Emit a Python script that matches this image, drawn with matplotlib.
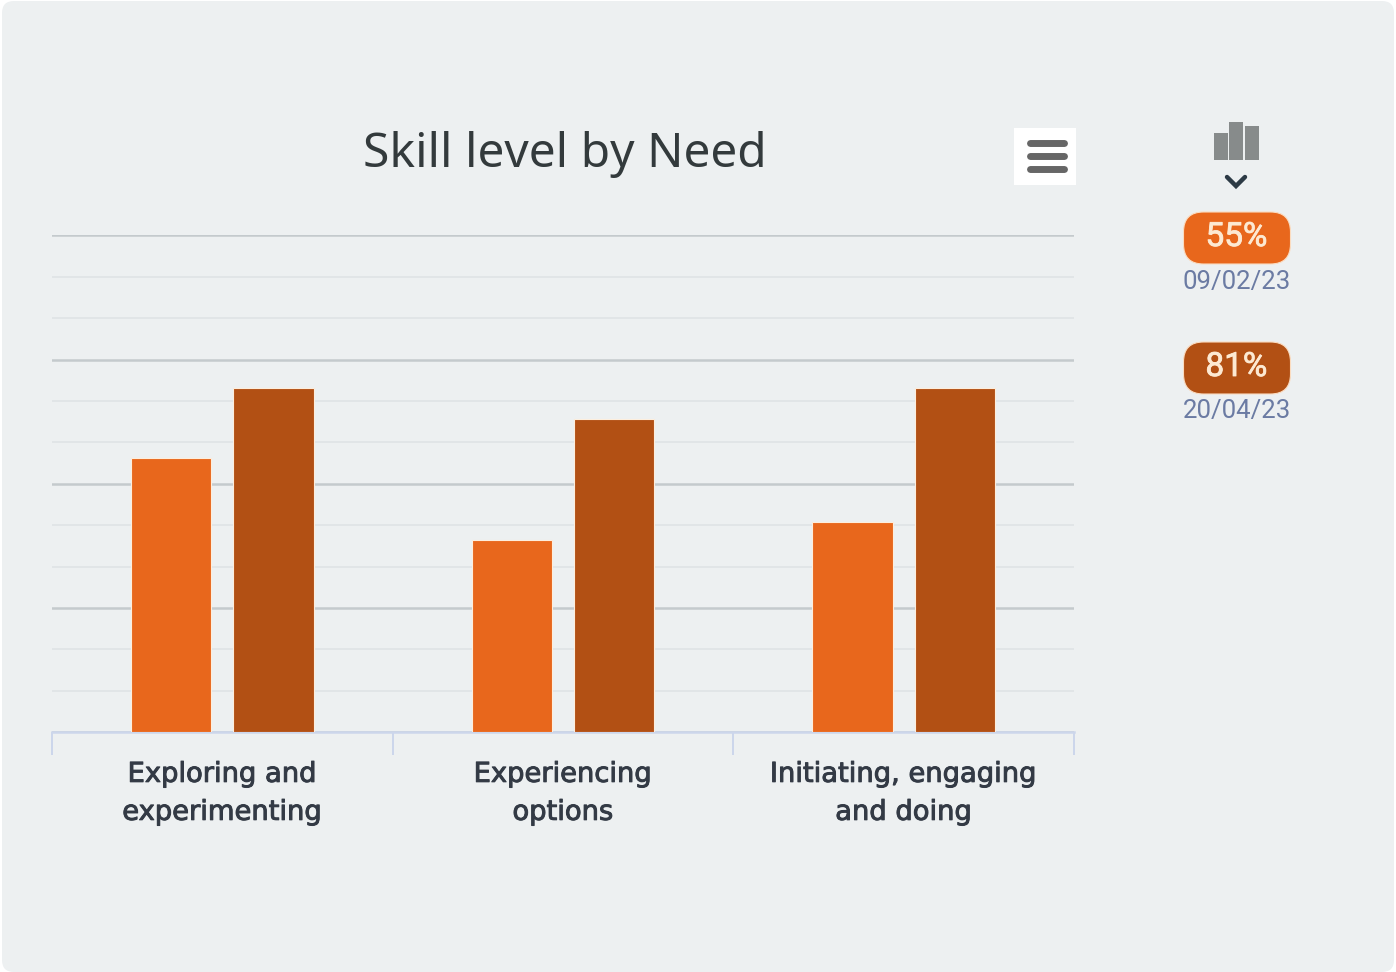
import matplotlib
matplotlib.use("Agg")
import matplotlib.pyplot as plt
import matplotlib.patheffects as pe
from matplotlib.patches import FancyBboxPatch, Rectangle
import numpy as np

categories = ["Exploring and\nexperimenting", "Experiencing\noptions", "Initiating, engaging\nand doing"]
first_values = [66.3, 46.4, 50.8]
second_values = [83.1, 75.6, 83.1]
legend_percent = ["55%", "81%"]
legend_dates = ["09/02/23", "20/04/23"]
icon_bars = [0.7, 1.0, 0.9]
COL1, COL2 = "#e8671c", "#b25014"
W, H = 1396, 972
BG = "#edf0f1"

fig = plt.figure(figsize=(W/100, H/100), dpi=100, facecolor="white")

# pixel overlay
bgax = fig.add_axes([0, 0, 1, 1], zorder=0)
bgax.set_xlim(0, W); bgax.set_ylim(H, 0); bgax.axis("off")
bgax.add_patch(FancyBboxPatch((2, 1), W-4, H-1, boxstyle="round,pad=0,rounding_size=12",
                              fc=BG, ec="none"))

# chart axes
x0, x1, ytop, ybot = 52, 1074, 235.5, 732
ax = fig.add_axes([x0/W, 1-ybot/H, (x1-x0)/W, (ybot-ytop)/H], zorder=1)
ax.patch.set_alpha(0)
ax.set_xlim(-0.5, 2.5); ax.set_ylim(0, 120)
x = np.arange(len(categories))
off, bw = 0.15, 0.236
ax.bar(x-off, first_values, bw, color=COL1, edgecolor="#fdeedd", linewidth=0.8, zorder=3)
ax.bar(x+off, second_values, bw, color=COL2, edgecolor="#fdeedd", linewidth=0.8, zorder=3)
ax.set_yticks(np.arange(0, 121, 30))
ax.set_yticks(np.arange(0, 121, 10), minor=True)
ax.grid(True, axis="y", which="major", color="#c4cacd", lw=1.8, zorder=1)
ax.grid(True, axis="y", which="minor", color="#e0e4e6", lw=1.3, zorder=1)
ax.tick_params(axis="y", which="both", left=False, labelleft=False)
for s in ["top", "left", "right"]:
    ax.spines[s].set_visible(False)
ax.spines["bottom"].set_color("#ccd6eb"); ax.spines["bottom"].set_linewidth(1.8)
ax.set_xticks([-0.5, 0.5, 1.5, 2.5]); ax.set_xticklabels([])
ax.tick_params(axis="x", which="major", length=16.5, width=1.4, color="#ccd6eb")
ax.set_xticks(x, minor=True)
ax.set_xticklabels(categories, minor=True, fontsize=19.7, color="#333a45",
                   family="DejaVu Sans", linespacing=1.6)
ax.tick_params(axis="x", which="minor", length=0, pad=21.5)
for t in ax.get_xticklabels(minor=True):
    t.set_path_effects([pe.withStroke(linewidth=0.7, foreground="#333a45")])

# overlay
ov = fig.add_axes([0, 0, 1, 1], zorder=2)
ov.set_xlim(0, W); ov.set_ylim(H, 0); ov.axis("off")
ov.text(564.5, 154, "Skill level by Need", ha="center", va="center", fontsize=34.5,
        color="#333a3c", family="Noto Sans")

# menu button
ov.add_patch(Rectangle((1014, 128), 62, 57, fc="white", ec="none"))
for yy in (143, 156, 169):
    ov.plot([1030, 1064], [yy, yy], color="#666666", lw=5, solid_capstyle="round")

# bar icon
for cx, h in zip((1220.5, 1236, 1251.5), icon_bars):
    ov.add_patch(Rectangle((cx-7, 160-38*h), 14, 38*h, fc="#878b8b", ec="none"))
ov.plot([1227, 1236, 1245], [177, 186, 177], color="#2c3a45", lw=3.2,
        solid_capstyle="round", solid_joinstyle="miter")

# legend pills
for (yc, yd, col, pct, d) in zip((238, 368), (281, 410), (COL1, COL2), legend_percent, legend_dates):
    ov.add_patch(FancyBboxPatch((1183.5, yc-26), 107, 52,
                 boxstyle="round,pad=0,rounding_size=20",
                 fc=col, ec="#fbdcc0", lw=0.8))
    t = ov.text(1236.5, yc-1, pct, ha="center", va="center", fontsize=24, color="#fde9d2", family="Roboto")
    t.set_path_effects([pe.withStroke(linewidth=0.6, foreground="#fde9d2")])
    ov.text(1236.5, yd+1, d, ha="center", va="center", fontsize=18.5, color="#6b7ba3", family="Roboto")

fig.savefig("out.png", dpi=100, facecolor="white")
